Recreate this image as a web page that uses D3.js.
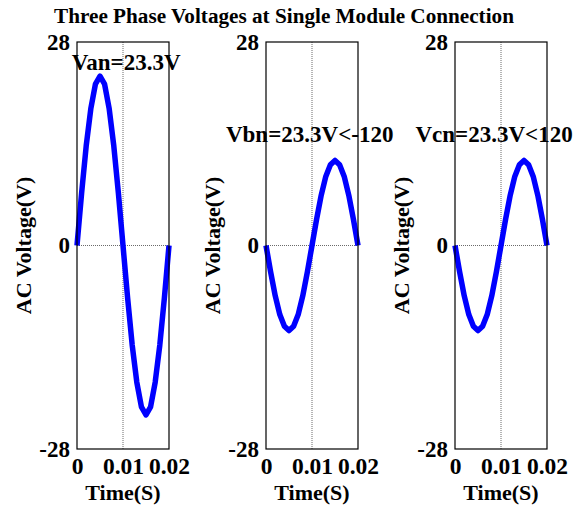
<!DOCTYPE html>
<html><head><meta charset="utf-8">
<script src="https://cdn.jsdelivr.net/npm/d3@7"></script>
<style>body{margin:0;background:#fff}svg{display:block}text{font-family:"Liberation Serif","Times New Roman",serif;font-weight:bold;fill:#000}</style>
</head><body>
<script>
const time = [0,0.001,0.002,0.003,0.004,0.005,0.006,0.007,0.008,0.009,0.010,0.011,0.012,0.013,0.014,0.015,0.016,0.017,0.018,0.019,0.020];
const van = [0,7.2,13.7,18.8,22.2,23.3,22.2,18.8,13.7,7.2,0,-7.2,-13.7,-18.8,-22.2,-23.3,-22.2,-18.8,-13.7,-7.2,0];
const vbn = [0,-3.6,-6.9,-9.5,-11.1,-11.7,-11.1,-9.5,-6.9,-3.6,0,3.6,6.9,9.5,11.1,11.7,11.1,9.5,6.9,3.6,0];
const vcn = [0,-3.6,-6.9,-9.5,-11.1,-11.7,-11.1,-9.5,-6.9,-3.6,0,3.6,6.9,9.5,11.1,11.7,11.1,9.5,6.9,3.6,0];
const series = [van, vbn, vcn];
const labels = ["Van=23.3V", "Vbn=23.3V<-120", "Vcn=23.3V<120"];
const labelX = [0.0107, 0.0095, 0.0085];
const labelY = [24.1, 14.2, 14.2];
const xTicks = [0, 0.01, 0.02];
const xTickLabels = ["0", "0.01", "0.02"];
const yTicks = [-28, 0, 28];
const yTickLabels = ["-28", "0", "28"];
const title = "Three Phase Voltages at Single Module Connection";

const W = 575, H = 508;
const svg = d3.select("body").append("svg").attr("width", W).attr("height", H);
const lefts = [77, 266, 455], pw = 92, pTop = 42, pBottom = 449;

svg.append("text").attr("x", 284).attr("y", 23).attr("text-anchor", "middle")
  .style("font-size", "21.2px").text(title);

series.forEach((data, i) => {
  const x = d3.scaleLinear().domain([0, 0.02]).range([lefts[i], lefts[i] + pw]);
  const y = d3.scaleLinear().domain([-28, 28]).range([pBottom, pTop]);
  const g = svg.append("g");
  g.append("line").attr("x1", x(0.01)).attr("x2", x(0.01)).attr("y1", pTop).attr("y2", pBottom)
    .attr("stroke", "#444").attr("stroke-width", 0.8).attr("stroke-dasharray", "1,1");
  g.append("line").attr("x1", x(0)).attr("x2", x(0.02)).attr("y1", y(0)).attr("y2", y(0))
    .attr("stroke", "#444").attr("stroke-width", 0.8).attr("stroke-dasharray", "1,1");
  g.append("path").datum(time.map((t, k) => [t, data[k]]))
    .attr("fill", "none").attr("stroke", "#0000ff").attr("stroke-width", 5.5)
    .attr("stroke-linejoin", "round")
    .attr("d", d3.line().x(d => x(d[0])).y(d => y(d[1])));
  g.append("rect").attr("x", x(0)).attr("y", pTop).attr("width", pw).attr("height", pBottom - pTop)
    .attr("fill", "none").attr("stroke", "#000").attr("stroke-width", 1.2);
  const xa = g.append("g").attr("transform", `translate(0,${pBottom})`)
    .call(d3.axisBottom(x).tickValues(xTicks).tickFormat((d, k) => xTickLabels[k]).tickSize(0).tickPadding(8));
  xa.select(".domain").remove();
  xa.selectAll("text").style("font-size", "23.5px").style("font-family", null);
  const ya = g.append("g").attr("transform", `translate(${lefts[i]},0)`)
    .call(d3.axisLeft(y).tickValues(yTicks).tickFormat((d, k) => yTickLabels[k]).tickSize(0).tickPadding(7));
  ya.select(".domain").remove();
  ya.selectAll("text").style("font-size", "23px").style("font-family", null);
  g.append("text").attr("x", x(labelX[i])).attr("y", y(labelY[i])).attr("text-anchor", "middle")
    .style("font-size", "23px").text(labels[i]);
  g.append("text").attr("transform", `translate(${lefts[i] - 54},${(pTop + pBottom) / 2}) rotate(-90)`)
    .attr("text-anchor", "middle").attr("dy", "0.35em").style("font-size", "22px").text("AC Voltage(V)");
  g.append("text").attr("x", x(0.01)).attr("y", 500).attr("text-anchor", "middle")
    .style("font-size", "22px").text("Time(S)");
});
</script>
</body></html>
